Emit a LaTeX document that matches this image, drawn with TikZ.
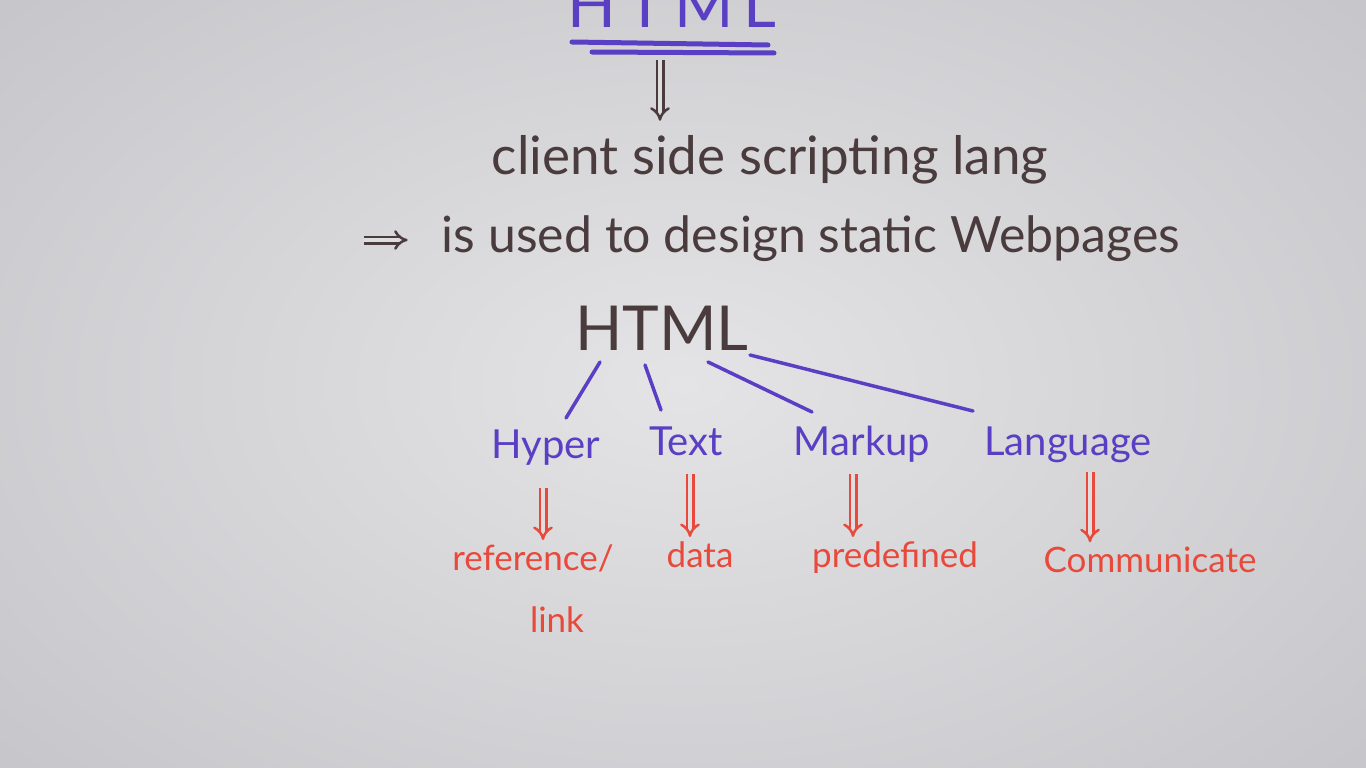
\documentclass[tikz,border=0pt]{standalone}
\usepackage{fontspec}
\setmainfont{Lato}
\usetikzlibrary{arrows.meta}
\definecolor{boardin}{HTML}{E4E4E6}
\definecolor{boardout}{HTML}{C6C6CA}
\definecolor{ink}{HTML}{4A3B3D}
\definecolor{violet}{HTML}{5A3FC4}
\definecolor{redink}{HTML}{E8493B}
\tikzset{
  darktext/.style={text=ink, inner sep=0pt, anchor=base},
  bluetext/.style={text=violet, inner sep=0pt, anchor=base, font=\fontsize{40}{44}\selectfont},
  redtext/.style={text=redink, inner sep=0pt, anchor=base, font=\fontsize{35}{40}\selectfont},
  branch/.style={draw=violet, line width=3.5pt, line cap=round},
  underl/.style={draw=violet, line width=5pt, line cap=round},
  implies/.style={double=boardin!80!boardout, double distance=4pt, line width=2.5pt,
    -{Implies[length=9pt, width=16pt]}},
}
\begin{document}
\begin{tikzpicture}[x=1pt,y=-1pt]
  \useasboundingbox (0,0) rectangle (1366,768);
  \clip (0,0) rectangle (1366,768);
  % whiteboard
  \shade[inner color=boardin, outer color=boardout] (-250,-200) rectangle (1616,968);

  % heading, running off the top edge, with its double underline
  \node[text=violet, inner sep=0pt, anchor=base, font=\fontsize{64}{70}\selectfont]
    (title) at (672,28) {H\hspace{10pt}T\hspace{10pt}M\hspace{10pt}L};
  \coordinate (u1a) at (572,42);  \coordinate (u1b) at (768,45);
  \coordinate (u2a) at (592,52);  \coordinate (u2b) at (774,53);
  \draw[underl] (u1a) -- (u1b);
  \draw[underl] (u2a) -- (u2b);
  \coordinate (down) at (660,60);

  % definition lines
  \node[darktext, font=\fontsize{53}{58}\selectfont] (client) at (770,174) {client side scripting lang};
  \draw[implies, draw=ink, shorten >=14pt] (down) -- (client.north -| down);

  \coordinate (arrstart) at (364,240);
  \node[darktext, font=\fontsize{50}{56}\selectfont] (used) at (811,252) {is used to design static Webpages};
  \draw[implies, draw=ink, shorten >=34pt] (arrstart) -- (arrstart -| used.west);

  % the acronym and its parts
  \node[darktext, font=\fontsize{62}{68}\selectfont] (html) at (662,350) {HTML};
  \coordinate (h1) at (600,362); \coordinate (h2) at (645,365);
  \coordinate (h3) at (708,362); \coordinate (h4) at (750,355);

  \node[bluetext] (hyper) at (546,458) {Hyper};
  \node[bluetext] (text) at (686,455) {Text};
  \node[bluetext] (markup) at (862,455) {Markup};
  \node[bluetext] (lang) at (1068,455) {Language};

  \coordinate (b1) at (566,418); \coordinate (b2) at (661,410);
  \coordinate (b3) at (812,412); \coordinate (b4) at (973,411);
  \draw[branch] (h1) -- (b1);
  \draw[branch] (h2) -- (b2);
  \draw[branch] (h3) -- (b3);
  \draw[branch] (h4) -- (b4);

  % meanings
  \node[redtext] (ref) at (533,570) {reference/};
  \node[redtext] (link) at (557,632) {link};
  \node[redtext] (data) at (700,567) {data};
  \node[redtext] (predef) at (895,567) {predefined};
  \node[redtext] (comm) at (1150,572) {Communicate};

  \coordinate (r1) at (543,488); \coordinate (r2) at (690,474);
  \coordinate (r3) at (853,474); \coordinate (r4) at (1090,472);
  \draw[implies, draw=redink, shorten >=4pt] (r1) -- (r1 |- ref.north);
  \draw[implies, draw=redink, shorten >=4pt] (r2) -- (r2 |- data.north);
  \draw[implies, draw=redink, shorten >=4pt] (r3) -- (r3 |- predef.north);
  \draw[implies, draw=redink, shorten >=4pt] (r4) -- (r4 |- comm.north);
\end{tikzpicture}
\end{document}
